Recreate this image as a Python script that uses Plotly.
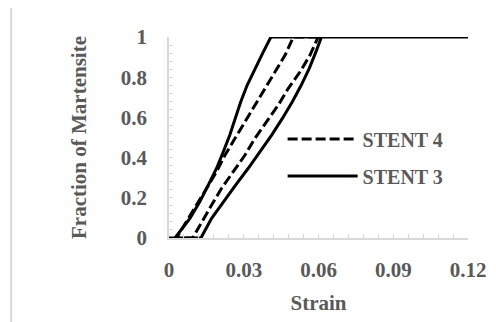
import plotly.graph_objects as go

# STENT 3 (solid) hysteresis loop: top plateau -> unloading branch -> bottom -> loading branch
stent3_strain = [0.12, 0.0409, 0.0379, 0.0346, 0.0314, 0.0288, 0.0267, 0.0244, 0.0218, 0.0191,
                 0.0158, 0.0124, 0.0084, 0.0044, 0.0024, 0.0, 0.0128, 0.0171, 0.0218, 0.0268,
                 0.0318, 0.0366, 0.0412, 0.0455, 0.0495, 0.0531, 0.0563, 0.0590, 0.0612]
stent3_frac = [1.0, 1.0, 0.927, 0.844, 0.761, 0.678, 0.595, 0.512, 0.429, 0.347,
               0.264, 0.181, 0.098, 0.032, 0.0, 0.0, 0.0, 0.098, 0.181, 0.264,
               0.347, 0.429, 0.512, 0.595, 0.678, 0.761, 0.844, 0.927, 1.0]

# STENT 4 (dashed) hysteresis loop
stent4_strain = [0.0599, 0.0499, 0.0466, 0.0425, 0.0385, 0.0345, 0.0305, 0.0265, 0.0225, 0.0191,
                 0.0151, 0.0111, 0.0071, 0.0037, 0.0030, 0.0095, 0.0131, 0.0171, 0.0211, 0.0258,
                 0.0305, 0.0345, 0.0392, 0.0439, 0.0479, 0.0526, 0.0566, 0.0599]
stent4_frac = [1.0, 1.0, 0.910, 0.827, 0.745, 0.662, 0.579, 0.496, 0.413, 0.330,
               0.247, 0.164, 0.081, 0.015, 0.0, 0.0, 0.081, 0.164, 0.247, 0.330,
               0.413, 0.496, 0.579, 0.662, 0.745, 0.827, 0.910, 1.0]

x_ticks = [0, 0.03, 0.06, 0.09, 0.12]
x_tick_labels = ["0", "0.03", "0.06", "0.09", "0.12"]
y_ticks = [0, 0.2, 0.4, 0.6, 0.8, 1]
y_tick_labels = ["0", "0.2", "0.4", "0.6", "0.8", "1"]

FONT = "Liberation Serif"
TXT = "#595959"
GRID = "#d9d9d9"

fig = go.Figure()
fig.add_trace(go.Scatter(x=stent4_strain, y=stent4_frac, mode="lines", name="STENT 4",
                         legendgroup="s4",
                         line=dict(color="black", width=3, dash="10px,4px")))
fig.add_trace(go.Scatter(x=stent3_strain, y=stent3_frac, mode="lines", name="STENT 3",
                         legendgroup="s3",
                         line=dict(color="black", width=3)))

axis_common = dict(
    showgrid=False, zeroline=False, showline=True, linecolor=GRID, linewidth=1.5,
    ticks="inside", ticklen=4, tickcolor=GRID, tickwidth=1,
    tickfont=dict(family=FONT, size=21, color=TXT, weight="bold"),
)

fig.update_xaxes(range=[0, 0.12], tickvals=x_ticks, ticktext=x_tick_labels,
                 minor=dict(dtick=0.006, ticks="inside", ticklen=4, tickcolor=GRID, tickwidth=1),
                 title=dict(text="<b>Strain</b>", font=dict(family=FONT, size=21, color=TXT), standoff=14),
                 ticklabelstandoff=12,
                 **axis_common)
fig.update_yaxes(range=[0, 1], tickvals=y_ticks, ticktext=y_tick_labels,
                 minor=dict(dtick=0.04, ticks="inside", ticklen=4, tickcolor=GRID, tickwidth=1),
                 title=dict(text="<b>Fraction of Martensite</b>", font=dict(family=FONT, size=21, color=TXT), standoff=28),
                 ticklabelstandoff=16,
                 **axis_common)

# light chart-area border (cropped at right and bottom in the reference)
fig.add_shape(type="rect", xref="paper", yref="paper", x0=-0.528, x1=2.0, y0=-2.0, y1=1.149,
              line=dict(color=GRID, width=2), layer="below")

fig.update_layout(
    width=496, height=322,
    margin=dict(l=161, r=36, t=29, b=92),
    paper_bgcolor="white", plot_bgcolor="white",
    showlegend=True,
    legend=dict(x=0.38, y=0.59, xanchor="left", yanchor="top",
                font=dict(family=FONT, size=20, color=TXT, weight="bold"),
                bgcolor="rgba(0,0,0,0)", tracegroupgap=8, itemwidth=70),
)

fig.write_html("out.html")
